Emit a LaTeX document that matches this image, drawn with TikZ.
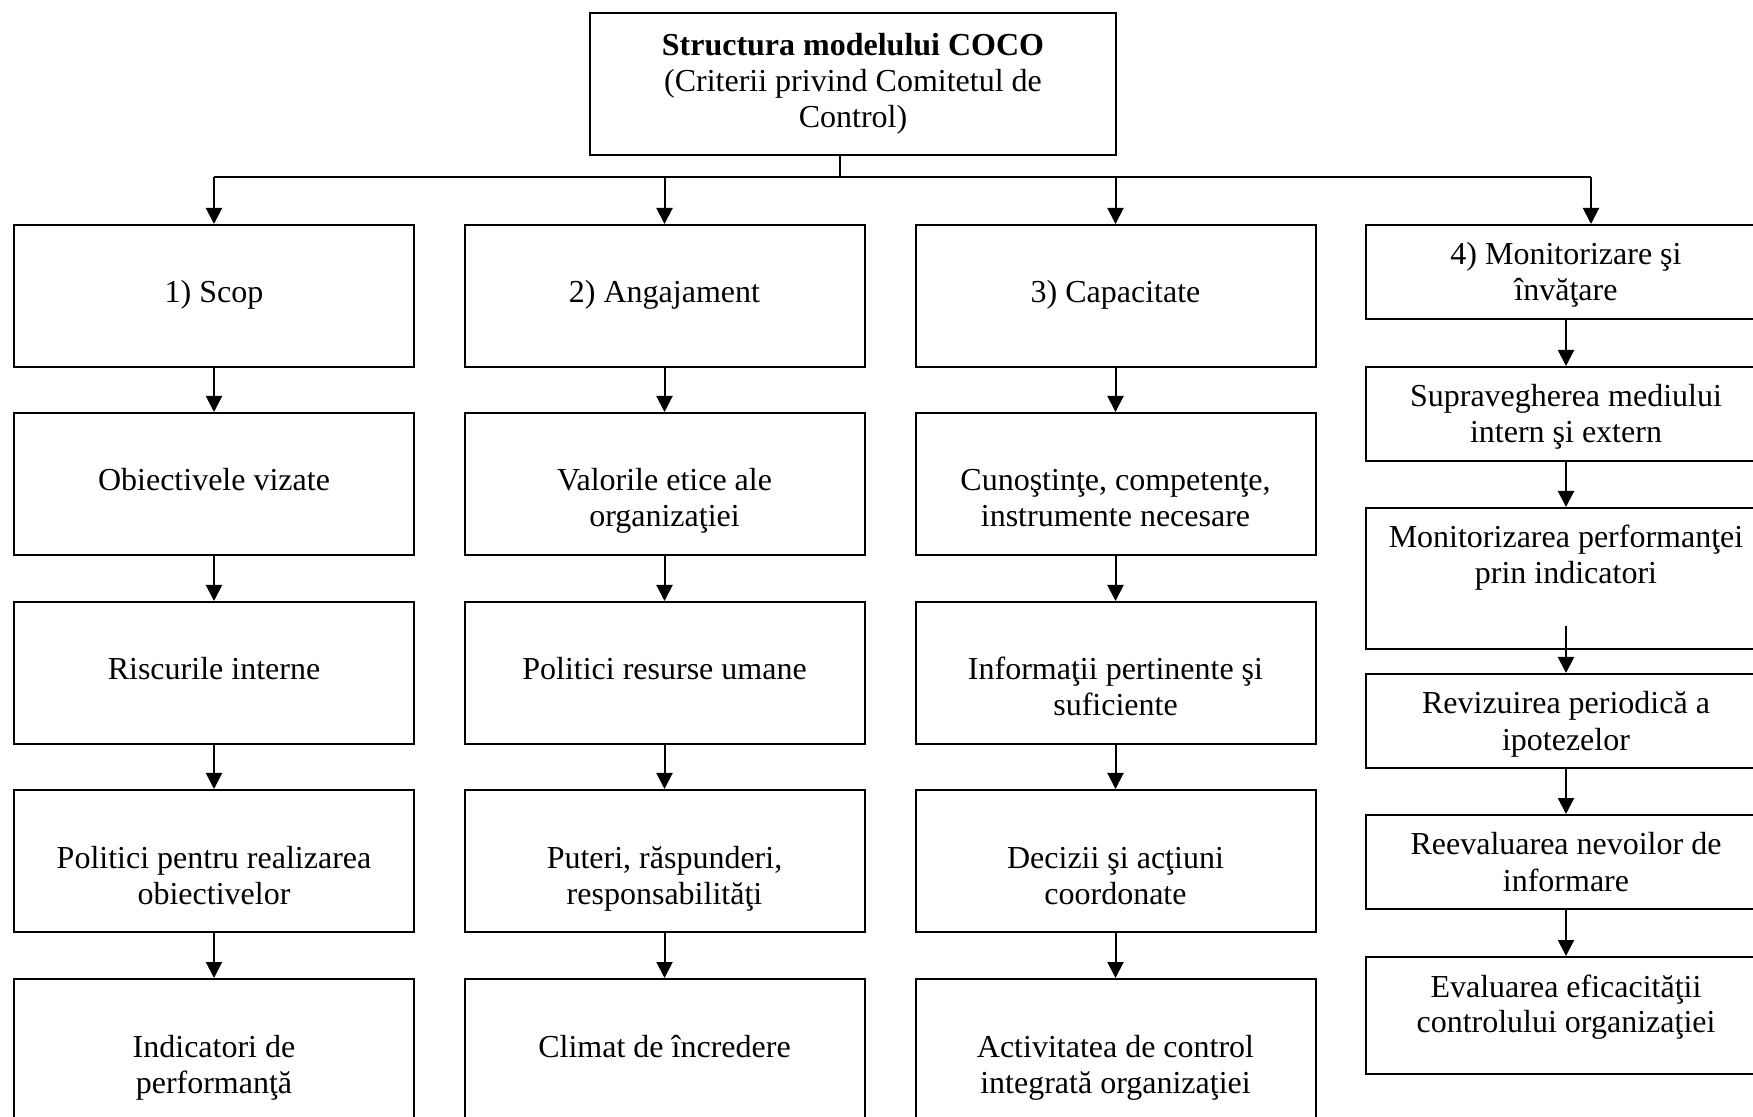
\documentclass[tikz,border=0pt]{standalone}
\usepackage{fontspec}
\setmainfont{Liberation Serif}
\usetikzlibrary{arrows.meta,calc}

% a fixed-size box whose text starts a set distance below its top edge
% #1 width, #2 height, #3 top padding, #4 text
\newcommand\cellbox[4]{\parbox[c][#2][t]{#1}{\centering\vspace*{#3}\strut#4\strut\par}}

\tikzset{
  cell/.style={draw, line width=1pt, inner sep=0pt, anchor=north,
    font=\fontsize{16}{18}\selectfont},
  arr/.style={line width=1pt, -{Triangle[length=8pt,width=8pt]}},
  link/.style={line width=1pt}
}

\begin{document}
\begin{tikzpicture}[x=0.5pt,y=-0.5pt]
\useasboundingbox (0,0) rectangle (1753,1117);

% title box
\node[cell] (top) at (853,12)
  {\cellbox{263pt}{71pt}{8.9pt}{\textbf{Structura modelului COCO}\\(Criterii privind Comitetul de\\Control)}};

% column 1
\node[cell] (a1) at (214,224) {\cellbox{200pt}{71pt}{26.4pt}{1) Scop}};
\node[cell] (a2) at (214,412) {\cellbox{200pt}{71pt}{26.4pt}{Obiectivele vizate}};
\node[cell] (a3) at (214,601) {\cellbox{200pt}{71pt}{26.4pt}{Riscurile interne}};
\node[cell] (a4) at (214,789) {\cellbox{200pt}{71pt}{26.4pt}{Politici pentru realizarea\\obiectivelor}};
\node[cell] (a5) at (214,978) {\cellbox{200pt}{71pt}{26.4pt}{Indicatori de\\performanţă}};

% column 2
\node[cell] (b1) at (664.5,224) {\cellbox{200pt}{71pt}{26.4pt}{2) Angajament}};
\node[cell] (b2) at (664.5,412) {\cellbox{200pt}{71pt}{26.4pt}{Valorile etice ale\\organizaţiei}};
\node[cell] (b3) at (664.5,601) {\cellbox{200pt}{71pt}{26.4pt}{Politici resurse umane}};
\node[cell] (b4) at (664.5,789) {\cellbox{200pt}{71pt}{26.4pt}{Puteri, răspunderi,\\responsabilităţi}};
\node[cell] (b5) at (664.5,978) {\cellbox{200pt}{71pt}{26.4pt}{Climat de încredere}};

% column 3
\node[cell] (c1) at (1115.5,224) {\cellbox{200pt}{71pt}{26.4pt}{3) Capacitate}};
\node[cell] (c2) at (1115.5,412) {\cellbox{200pt}{71pt}{26.4pt}{Cunoştinţe, competenţe,\\instrumente necesare}};
\node[cell] (c3) at (1115.5,601) {\cellbox{200pt}{71pt}{26.4pt}{Informaţii pertinente şi\\suficiente}};
\node[cell] (c4) at (1115.5,789) {\cellbox{200pt}{71pt}{26.4pt}{Decizii şi acţiuni\\coordonate}};
\node[cell] (c5) at (1115.5,978) {\cellbox{200pt}{71pt}{26.4pt}{Activitatea de control\\integrată organizaţiei}};

% column 4
\node[cell] (d1) at (1566,224) {\cellbox{200pt}{47pt}{7.4pt}{4) Monitorizare şi\\învăţare}};
\node[cell] (d2) at (1566,366) {\cellbox{200pt}{47pt}{7.4pt}{Supravegherea mediului\\intern şi extern}};
\node[cell] (d3) at (1566,507) {\cellbox{200pt}{70.5pt}{7.4pt}{Monitorizarea performanţei\\prin indicatori}};
\node[cell] (d4) at (1566,673) {\cellbox{200pt}{47pt}{7.4pt}{Revizuirea periodică a\\ipotezelor}};
\node[cell] (d5) at (1566,814) {\cellbox{200pt}{47pt}{7.4pt}{Reevaluarea nevoilor de\\informare}};
\node[cell] (d6) at (1566,956) {\cellbox{200pt}{58.5pt}{7.4pt}{Evaluarea eficacităţii\\controlului organizaţiei}};

% distribution bus
\coordinate (j) at (840,177);
\coordinate (busL) at (214,177);
\coordinate (busR) at (1591,177);
\draw[link] (top.south -| j) -- (j);
\draw[link] (busL) -- (busR);
\draw[arr] (busL) -- (a1.north);
\draw[arr] (b1.north |- busL) -- (b1.north);
\draw[arr] (c1.north |- busL) -- (c1.north);
\draw[arr] (busR) -- (busR |- d1.north);

% vertical chains
\foreach \col in {a,b,c}{
  \draw[arr] (\col1.south) -- (\col2.north);
  \draw[arr] (\col2.south) -- (\col3.north);
  \draw[arr] (\col3.south) -- (\col4.north);
  \draw[arr] (\col4.south) -- (\col5.north);
}
\draw[arr] (d1.south) -- (d2.north);
\draw[arr] (d2.south) -- (d3.north);
\coordinate (d3out) at ($(d3.south)+(0,-24)$);
\draw[arr] (d3out) -- (d4.north);
\draw[arr] (d4.south) -- (d5.north);
\draw[arr] (d5.south) -- (d6.north);
\end{tikzpicture}
\end{document}
